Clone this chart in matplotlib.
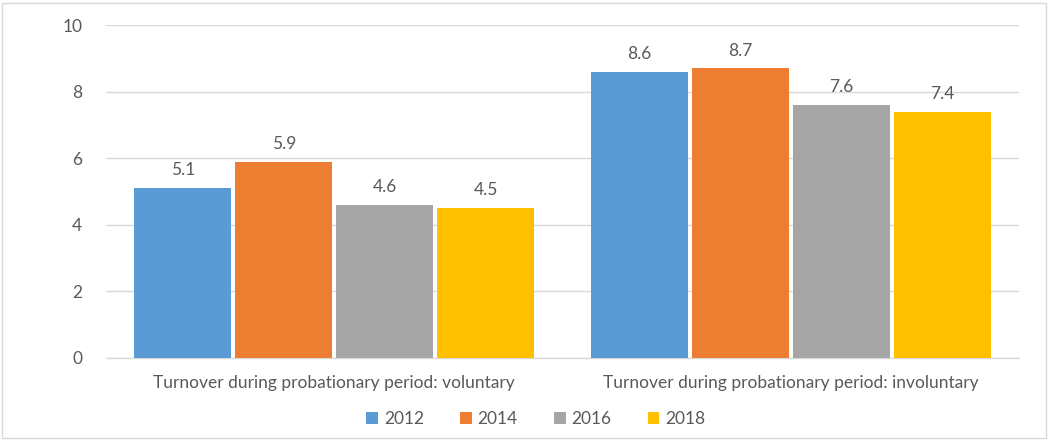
import matplotlib
matplotlib.use("Agg")
import matplotlib.pyplot as plt
from matplotlib.patches import Rectangle
import numpy as np

categories = ["Turnover during probationary period: voluntary",
              "Turnover during probationary period: involuntary"]
years = ["2012", "2014", "2016", "2018"]
values = {
    "2012": [5.1, 8.6],
    "2014": [5.9, 8.7],
    "2016": [4.6, 7.6],
    "2018": [4.5, 7.4],
}
colors = ["#5B9BD5", "#ED7D31", "#A5A5A5", "#FFC000"]

plt.rcParams['font.family'] = ['Lato', 'DejaVu Sans']
txt = "#595959"
fs = 12.5

fig = plt.figure(figsize=(10.5, 4.41), dpi=100)
ax = fig.add_axes([106/1050, 1-358/441, (1019-106)/1050, (358-25)/441])

x = np.arange(len(categories))
step = 0.221
w = 0.2125
for i, y in enumerate(years):
    pos = x + (i - 1.5) * step
    bars = ax.bar(pos, values[y], width=w, color=colors[i], label=y, zorder=3)
    for b, v in zip(bars, values[y]):
        ax.annotate(f"{v}", (b.get_x() + b.get_width()/2, v), xytext=(0, 7),
                    textcoords="offset points", ha="center", va="bottom",
                    fontsize=fs, color=txt)

ax.set_xlim(-0.5, 1.5)
ax.set_ylim(0, 10)
ax.set_yticks([0, 2, 4, 6, 8, 10])
ax.yaxis.grid(True, color="#D9D9D9", linewidth=1, zorder=0)
for s in ["top", "right", "left"]:
    ax.spines[s].set_visible(False)
ax.spines["bottom"].set_color("#D9D9D9")
ax.spines["bottom"].set_linewidth(1)
ax.set_xticks(x)
ax.set_xticklabels(categories)
ax.tick_params(axis="both", length=0, colors=txt, labelsize=fs)
ax.tick_params(axis="x", pad=12)
ax.tick_params(axis="y", pad=17)

leg = fig.legend(loc="center", bbox_to_anchor=(536/1050, 1-419/441), ncol=4,
                 frameon=False, fontsize=fs, handlelength=0.65, handleheight=0.65,
                 columnspacing=2.1, handletextpad=0.35)
for t in leg.get_texts():
    t.set_color(txt)

fig.patches.append(Rectangle((2/1050, 3/441), 1044/1050, 435/441, transform=fig.transFigure,
                             fill=False, edgecolor="#D9D9D9", linewidth=1))

fig.savefig("out.png", dpi=100)
